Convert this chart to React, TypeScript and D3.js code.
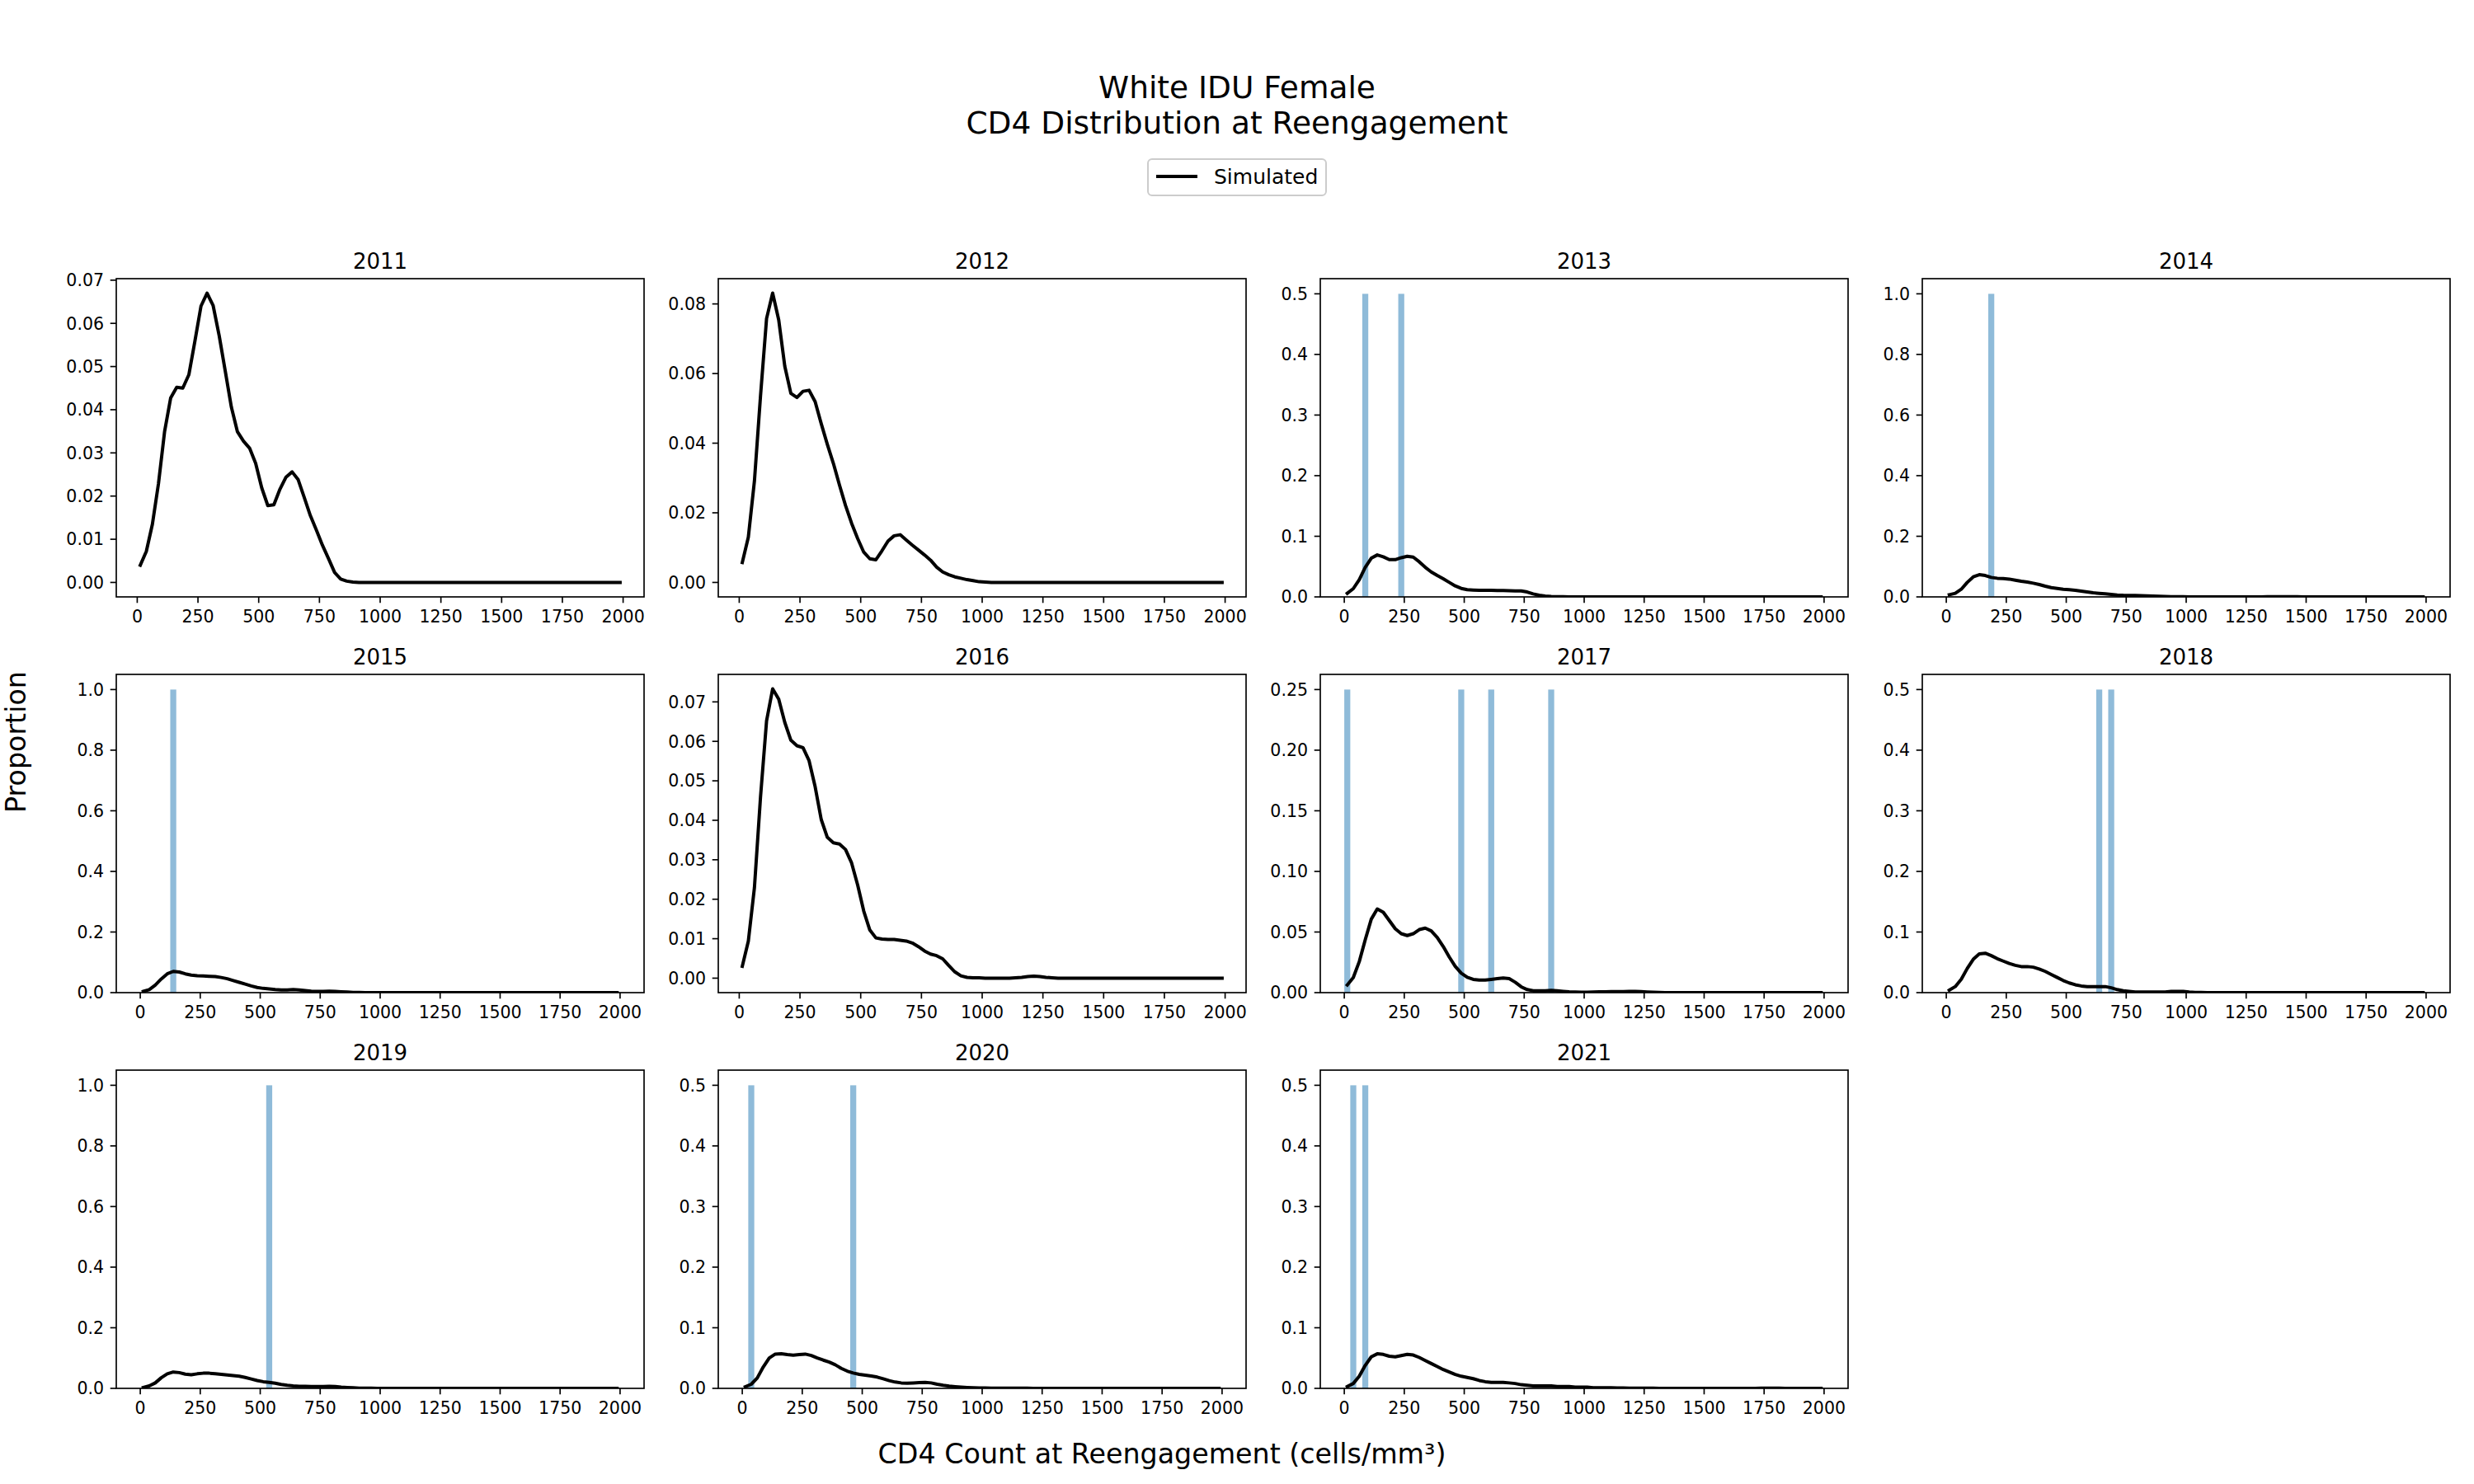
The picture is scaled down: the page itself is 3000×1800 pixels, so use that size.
import React from "react";
import * as d3 from "d3";

// ---- data -----------------------------------------------------------------
const YEARS = [2011, 2012, 2013, 2014, 2015, 2016, 2017, 2018, 2019, 2020, 2021];

const BIN_WIDTH = 25; // cells/mm³ per histogram bin
const HIST_RANGE = [0, 2000]; // full span of the observed histogram bins
const X_TICKS = [0, 250, 500, 750, 1000, 1250, 1500, 1750, 2000];

// simulated proportion per 25-cell bin (bins 0-25 ... 1975-2000)
const SIM_2011 = [
  0.0040, 0.0072, 0.0135, 0.0229, 0.0349, 0.0427, 0.0452, 0.0450, 0.0481, 0.0559,
  0.0640, 0.0670, 0.0641, 0.0571, 0.0489, 0.0406, 0.0349, 0.0327, 0.0311, 0.0276,
  0.0219, 0.0178, 0.0180, 0.0216, 0.0244, 0.0256, 0.0238, 0.0197, 0.0155, 0.0121,
  0.0086, 0.0055, 0.0023, 0.0008, 0.0003, 0.0001, 0, 0, 0, 0,
  0, 0, 0, 0, 0, 0, 0, 0, 0, 0,
  0, 0, 0, 0, 0, 0, 0, 0, 0, 0,
  0, 0, 0, 0, 0, 0, 0, 0, 0, 0,
  0, 0, 0, 0, 0, 0, 0, 0, 0, 0,
];
const SIM_2012 = [
  0.0057, 0.0130, 0.0291, 0.0535, 0.0758, 0.0831, 0.0754, 0.0621, 0.0543, 0.0531,
  0.0549, 0.0552, 0.0519, 0.0456, 0.0397, 0.0342, 0.0280, 0.0221, 0.0170, 0.0126,
  0.0087, 0.0068, 0.0065, 0.0091, 0.0119, 0.0134, 0.0137, 0.0122, 0.0107, 0.0093,
  0.0079, 0.0064, 0.0044, 0.0030, 0.0022, 0.0016, 0.0012, 0.0008, 0.0005, 0.0002,
  0.0001, 0, 0, 0, 0, 0, 0, 0, 0, 0,
  0, 0, 0, 0, 0, 0, 0, 0, 0, 0,
  0, 0, 0, 0, 0, 0, 0, 0, 0, 0,
  0, 0, 0, 0, 0, 0, 0, 0, 0, 0,
];
const SIM_2013 = [
  0.0059, 0.0136, 0.0285, 0.0489, 0.0638, 0.0692, 0.0661, 0.0615, 0.0615, 0.0647,
  0.0670, 0.0656, 0.0579, 0.0489, 0.0412, 0.0353, 0.0299, 0.0240, 0.0181, 0.0140,
  0.0118, 0.0113, 0.0109, 0.0109, 0.0109, 0.0106, 0.0104, 0.0102, 0.0100, 0.0099,
  0.0081, 0.0050, 0.0027, 0.0014, 0.0007, 0.0003, 0.0002, 0.0001, 0.0001, 0.0001,
  0.0001, 0.0001, 0.0001, 0.0001, 0.0001, 0.0001, 0.0001, 0.0001, 0.0001, 0.0001,
  0, 0, 0, 0, 0, 0, 0, 0, 0, 0,
  0, 0, 0, 0, 0, 0, 0, 0, 0, 0,
  0, 0, 0, 0, 0, 0, 0, 0, 0, 0,
];
const SIM_2014 = [
  0.0072, 0.0118, 0.0253, 0.0480, 0.0661, 0.0733, 0.0706, 0.0643, 0.0615, 0.0606,
  0.0588, 0.0552, 0.0516, 0.0489, 0.0452, 0.0407, 0.0353, 0.0308, 0.0281, 0.0253,
  0.0235, 0.0217, 0.0190, 0.0163, 0.0136, 0.0118, 0.0100, 0.0081, 0.0063, 0.0054,
  0.0050, 0.0046, 0.0040, 0.0032, 0.0025, 0.0018, 0.0012, 0.0008, 0.0005, 0.0004,
  0.0003, 0.0003, 0.0003, 0.0003, 0.0003, 0.0003, 0.0003, 0.0003, 0.0003, 0.0003,
  0.0003, 0.0003, 0.0003, 0.0004, 0.0005, 0.0006, 0.0006, 0.0005, 0.0004, 0.0003,
  0.0002, 0.0002, 0.0002, 0.0001, 0.0001, 0.0001, 0.0001, 0.0001, 0.0001, 0.0001,
  0.0001, 0.0001, 0.0001, 0.0001, 0.0001, 0.0001, 0.0001, 0.0001, 0.0001, 0.0001,
];
const SIM_2015 = [
  0.0040, 0.0100, 0.0250, 0.0450, 0.0620, 0.0700, 0.0680, 0.0620, 0.0580, 0.0560,
  0.0550, 0.0540, 0.0530, 0.0500, 0.0460, 0.0400, 0.0340, 0.0280, 0.0220, 0.0170,
  0.0140, 0.0120, 0.0100, 0.0090, 0.0090, 0.0100, 0.0090, 0.0070, 0.0050, 0.0040,
  0.0040, 0.0050, 0.0040, 0.0030, 0.0020, 0.0010, 0.0005, 0.0003, 0.0002, 0.0001,
  0.0001, 0.0001, 0.0001, 0.0001, 0.0001, 0, 0, 0, 0, 0,
  0, 0, 0, 0, 0, 0, 0, 0, 0, 0,
  0, 0, 0, 0, 0, 0, 0, 0, 0, 0,
  0, 0, 0, 0, 0, 0, 0, 0, 0, 0,
];
const SIM_2016 = [
  0.0030, 0.0094, 0.0229, 0.0458, 0.0652, 0.0733, 0.0707, 0.0648, 0.0603, 0.0589,
  0.0584, 0.0551, 0.0485, 0.0402, 0.0357, 0.0343, 0.0340, 0.0326, 0.0292, 0.0236,
  0.0170, 0.0122, 0.0102, 0.0099, 0.0098, 0.0098, 0.0096, 0.0094, 0.0089, 0.0080,
  0.0069, 0.0061, 0.0057, 0.0049, 0.0032, 0.0016, 0.0006, 0.0002, 0.0001, 0.0001,
  0, 0, 0, 0, 0, 0.0001, 0.0002, 0.0004, 0.0005, 0.0004,
  0.0002, 0.0001, 0, 0, 0, 0, 0, 0, 0, 0,
  0, 0, 0, 0, 0, 0, 0, 0, 0, 0,
  0, 0, 0, 0, 0, 0, 0, 0, 0, 0,
];
const SIM_2017 = [
  0.0063, 0.0124, 0.0256, 0.0437, 0.0606, 0.0690, 0.0663, 0.0595, 0.0527, 0.0486,
  0.0471, 0.0486, 0.0520, 0.0532, 0.0509, 0.0455, 0.0380, 0.0294, 0.0217, 0.0161,
  0.0127, 0.0109, 0.0104, 0.0104, 0.0109, 0.0115, 0.0120, 0.0115, 0.0086, 0.0048,
  0.0025, 0.0016, 0.0016, 0.0016, 0.0018, 0.0016, 0.0011, 0.0007, 0.0005, 0.0004,
  0.0004, 0.0005, 0.0006, 0.0007, 0.0008, 0.0009, 0.0009, 0.0010, 0.0010, 0.0008,
  0.0005, 0.0003, 0.0001, 0, 0, 0, 0, 0, 0, 0,
  0, 0, 0, 0, 0, 0, 0, 0, 0, 0,
  0, 0, 0, 0, 0, 0, 0, 0, 0, 0,
];
const SIM_2018 = [
  0.0040, 0.0100, 0.0220, 0.0400, 0.0550, 0.0640, 0.0650, 0.0610, 0.0560, 0.0520,
  0.0480, 0.0450, 0.0430, 0.0430, 0.0420, 0.0390, 0.0350, 0.0300, 0.0250, 0.0200,
  0.0160, 0.0130, 0.0110, 0.0100, 0.0100, 0.0100, 0.0100, 0.0080, 0.0050, 0.0030,
  0.0020, 0.0010, 0.0010, 0.0010, 0.0010, 0.0010, 0.0010, 0.0020, 0.0020, 0.0020,
  0.0010, 0.0005, 0.0002, 0.0001, 0, 0, 0, 0, 0, 0,
  0, 0, 0, 0, 0, 0, 0, 0, 0, 0,
  0, 0, 0, 0, 0, 0, 0, 0, 0, 0,
  0, 0, 0, 0, 0, 0, 0, 0, 0, 0,
];
const SIM_2019 = [
  0.0030, 0.0080, 0.0180, 0.0350, 0.0480, 0.0540, 0.0520, 0.0470, 0.0450, 0.0480,
  0.0500, 0.0500, 0.0480, 0.0460, 0.0440, 0.0420, 0.0400, 0.0360, 0.0310, 0.0260,
  0.0220, 0.0200, 0.0170, 0.0130, 0.0100, 0.0080, 0.0070, 0.0070, 0.0060, 0.0060,
  0.0060, 0.0070, 0.0060, 0.0040, 0.0030, 0.0020, 0.0010, 0.0010, 0.0005, 0.0003,
  0.0002, 0.0001, 0.0001, 0, 0, 0, 0, 0, 0, 0,
  0, 0, 0, 0, 0, 0, 0, 0, 0, 0,
  0, 0, 0, 0, 0, 0, 0, 0, 0, 0,
  0, 0, 0, 0, 0, 0, 0, 0, 0, 0,
];
const SIM_2020 = [
  0.0027, 0.0068, 0.0172, 0.0353, 0.0502, 0.0566, 0.0570, 0.0557, 0.0548, 0.0557,
  0.0566, 0.0543, 0.0502, 0.0466, 0.0434, 0.0389, 0.0330, 0.0285, 0.0253, 0.0231,
  0.0217, 0.0204, 0.0186, 0.0158, 0.0127, 0.0104, 0.0090, 0.0086, 0.0090, 0.0095,
  0.0100, 0.0090, 0.0068, 0.0050, 0.0036, 0.0027, 0.0020, 0.0015, 0.0011, 0.0008,
  0.0006, 0.0005, 0.0004, 0.0004, 0.0003, 0.0003, 0.0002, 0.0002, 0.0001, 0.0001,
  0, 0, 0, 0, 0, 0, 0, 0, 0, 0,
  0, 0, 0, 0, 0, 0, 0, 0, 0, 0,
  0, 0, 0, 0, 0, 0, 0, 0, 0, 0,
];
const SIM_2021 = [
  0.0030, 0.0080, 0.0200, 0.0380, 0.0520, 0.0570, 0.0560, 0.0530, 0.0520, 0.0540,
  0.0560, 0.0550, 0.0510, 0.0460, 0.0410, 0.0360, 0.0310, 0.0270, 0.0230, 0.0200,
  0.0180, 0.0160, 0.0130, 0.0110, 0.0100, 0.0100, 0.0100, 0.0090, 0.0080, 0.0060,
  0.0050, 0.0040, 0.0040, 0.0040, 0.0040, 0.0030, 0.0030, 0.0030, 0.0020, 0.0020,
  0.0020, 0.0010, 0.0010, 0.0010, 0.0010, 0.0008, 0.0006, 0.0005, 0.0004, 0.0003,
  0.0002, 0.0002, 0.0001, 0.0001, 0.0001, 0.0001, 0.0001, 0.0001, 0.0001, 0.0001,
  0.0001, 0.0001, 0.0001, 0.0001, 0.0001, 0.0001, 0.0001, 0.0001, 0.0001, 0.0002,
  0.0003, 0.0003, 0.0002, 0.0001, 0.0001, 0, 0, 0, 0, 0,
];

// observed reengagements: left edge of the bin and its proportion
const OBS_BINS_2013 = [75, 225];
const OBS_PROP_2013 = [0.5, 0.5];
const OBS_BINS_2014 = [175];
const OBS_PROP_2014 = [1.0];
const OBS_BINS_2015 = [125];
const OBS_PROP_2015 = [1.0];
const OBS_BINS_2017 = [0, 475, 600, 850];
const OBS_PROP_2017 = [0.25, 0.25, 0.25, 0.25];
const OBS_BINS_2018 = [625, 675];
const OBS_PROP_2018 = [0.5, 0.5];
const OBS_BINS_2019 = [525];
const OBS_PROP_2019 = [1.0];
const OBS_BINS_2020 = [25, 450];
const OBS_PROP_2020 = [0.5, 0.5];
const OBS_BINS_2021 = [25, 75];
const OBS_PROP_2021 = [0.5, 0.5];

// y tick values per panel
const Y_TICKS_007 = [0, 0.01, 0.02, 0.03, 0.04, 0.05, 0.06, 0.07];
const Y_TICKS_008 = [0, 0.02, 0.04, 0.06, 0.08];
const Y_TICKS_05 = [0, 0.1, 0.2, 0.3, 0.4, 0.5];
const Y_TICKS_10 = [0, 0.2, 0.4, 0.6, 0.8, 1.0];
const Y_TICKS_025 = [0, 0.05, 0.1, 0.15, 0.2, 0.25];

type Panel = {
  year: number;
  sim: number[];
  obsBins: number[];
  obsProp: number[];
  yTicks: number[];
  yDecimals: number;
};

const PANELS: Panel[] = [
  { year: YEARS[0], sim: SIM_2011, obsBins: [], obsProp: [], yTicks: Y_TICKS_007, yDecimals: 2 },
  { year: YEARS[1], sim: SIM_2012, obsBins: [], obsProp: [], yTicks: Y_TICKS_008, yDecimals: 2 },
  { year: YEARS[2], sim: SIM_2013, obsBins: OBS_BINS_2013, obsProp: OBS_PROP_2013, yTicks: Y_TICKS_05, yDecimals: 1 },
  { year: YEARS[3], sim: SIM_2014, obsBins: OBS_BINS_2014, obsProp: OBS_PROP_2014, yTicks: Y_TICKS_10, yDecimals: 1 },
  { year: YEARS[4], sim: SIM_2015, obsBins: OBS_BINS_2015, obsProp: OBS_PROP_2015, yTicks: Y_TICKS_10, yDecimals: 1 },
  { year: YEARS[5], sim: SIM_2016, obsBins: [], obsProp: [], yTicks: Y_TICKS_007, yDecimals: 2 },
  { year: YEARS[6], sim: SIM_2017, obsBins: OBS_BINS_2017, obsProp: OBS_PROP_2017, yTicks: Y_TICKS_025, yDecimals: 2 },
  { year: YEARS[7], sim: SIM_2018, obsBins: OBS_BINS_2018, obsProp: OBS_PROP_2018, yTicks: Y_TICKS_05, yDecimals: 1 },
  { year: YEARS[8], sim: SIM_2019, obsBins: OBS_BINS_2019, obsProp: OBS_PROP_2019, yTicks: Y_TICKS_10, yDecimals: 1 },
  { year: YEARS[9], sim: SIM_2020, obsBins: OBS_BINS_2020, obsProp: OBS_PROP_2020, yTicks: Y_TICKS_05, yDecimals: 1 },
  { year: YEARS[10], sim: SIM_2021, obsBins: OBS_BINS_2021, obsProp: OBS_PROP_2021, yTicks: Y_TICKS_05, yDecimals: 1 },
];

// ---- layout ---------------------------------------------------------------
const W = 3000;
const H = 1800;
const COL_LEFT = [141, 871, 1601, 2331];
const ROW_TOP = [338, 818, 1298];
const AX_W = 640;
const AX_H = 386;
const FONT = "DejaVu Sans, Liberation Sans, sans-serif";
const TICK_FS = 20.5;
const TITLE_FS = 26;
const BAR_COLOR = "#1f77b4";

function SubPlot({ p, left, top }: { p: Panel; left: number; top: number }) {
  const centers = p.sim.map((_, i) => (i + 0.5) * BIN_WIDTH);
  const hasBars = p.obsBins.length > 0;

  // x extent: the line's bin centres, plus the whole histogram range when bars are drawn
  let xMin = centers[0];
  let xMax = centers[centers.length - 1];
  if (hasBars) {
    xMin = Math.min(xMin, HIST_RANGE[0]);
    xMax = Math.max(xMax, HIST_RANGE[1]);
  }
  const xPad = (xMax - xMin) * 0.05;
  const x = d3.scaleLinear().domain([xMin - xPad, xMax + xPad]).range([0, AX_W]);

  const simMax = d3.max(p.sim) ?? 0;
  const simMin = d3.min(p.sim) ?? 0;
  const barMax = hasBars ? d3.max(p.obsProp) ?? 0 : 0;
  const dataMax = Math.max(simMax, barMax);
  let y0: number, y1: number;
  if (hasBars) {
    // bars rest on zero, so the lower limit sticks to 0
    y0 = 0;
    y1 = dataMax * 1.05;
  } else {
    const span = dataMax - simMin;
    y0 = simMin - span * 0.05;
    y1 = dataMax + span * 0.05;
  }
  const y = d3.scaleLinear().domain([y0, y1]).range([AX_H, 0]);

  const line = d3
    .line<number>()
    .x((_, i) => x(centers[i]))
    .y((d) => y(d));

  const fmt = d3.format(`.${p.yDecimals}f`);

  return (
    <g transform={`translate(${left},${top})`}>
      <defs>
        <clipPath id={`clip-${p.year}`}>
          <rect x={0} y={0} width={AX_W} height={AX_H} />
        </clipPath>
      </defs>
      <g clipPath={`url(#clip-${p.year})`}>
        {p.obsBins.map((b, i) => (
          <rect
            key={i}
            x={x(b)}
            y={y(p.obsProp[i])}
            width={x(b + BIN_WIDTH) - x(b)}
            height={y(0) - y(p.obsProp[i])}
            fill={BAR_COLOR}
            fillOpacity={0.5}
          />
        ))}
        <path
          d={line(p.sim) ?? ""}
          fill="none"
          stroke="#000"
          strokeWidth={4}
          strokeLinejoin="round"
          strokeLinecap="square"
        />
      </g>
      <rect x={0} y={0} width={AX_W} height={AX_H} fill="none" stroke="#000" strokeWidth={1.67} />
      {/* x axis */}
      {X_TICKS.map((t) => (
        <g key={t} transform={`translate(${x(t)},${AX_H})`}>
          <line y1={0} y2={7.3} stroke="#000" strokeWidth={1.67} />
          <text y={31} textAnchor="middle" fontSize={TICK_FS} fontFamily={FONT} fill="#000">
            {t}
          </text>
        </g>
      ))}
      {/* y axis */}
      {p.yTicks.map((t) => (
        <g key={t} transform={`translate(0,${y(t)})`}>
          <line x1={0} x2={-7.3} stroke="#000" strokeWidth={1.67} />
          <text
            x={-15}
            dy="0.36em"
            textAnchor="end"
            fontSize={TICK_FS}
            fontFamily={FONT}
            fill="#000"
          >
            {fmt(t)}
          </text>
        </g>
      ))}
      <text
        x={AX_W / 2}
        y={-12.5}
        textAnchor="middle"
        fontSize={TITLE_FS}
        fontFamily={FONT}
        fill="#000"
      >
        {p.year}
      </text>
    </g>
  );
}

export default function App() {
  return (
    <svg
      width={W}
      height={H}
      viewBox={`0 0 ${W} ${H}`}
      style={{ position: "absolute", left: 0, top: 0, background: "#fff" }}
    >
      <rect x={0} y={0} width={W} height={H} fill="#fff" />
      <text x={1500} y={119} textAnchor="middle" fontSize={37.5} fontFamily={FONT} fill="#000">
        White IDU Female
      </text>
      <text x={1500} y={162} textAnchor="middle" fontSize={37.5} fontFamily={FONT} fill="#000">
        CD4 Distribution at Reengagement
      </text>

      {/* legend */}
      <g>
        <rect
          x={1392}
          y={193}
          width={216}
          height={44}
          rx={5}
          fill="#fff"
          fillOpacity={0.8}
          stroke="#cccccc"
          strokeWidth={2}
        />
        <line x1={1402} x2={1452} y1={214} y2={214} stroke="#000" strokeWidth={4} />
        <text x={1472} y={223} fontSize={25} fontFamily={FONT} fill="#000">
          Simulated
        </text>
      </g>

      {PANELS.map((p, i) => (
        <SubPlot key={p.year} p={p} left={COL_LEFT[i % 4]} top={ROW_TOP[Math.floor(i / 4)]} />
      ))}

      <text x={1409} y={1775} textAnchor="middle" fontSize={33.3} fontFamily={FONT} fill="#000">
        CD4 Count at Reengagement (cells/mm³)
      </text>
      <text
        transform="translate(31,900) rotate(-90)"
        textAnchor="middle"
        fontSize={33.3}
        fontFamily={FONT}
        fill="#000"
      >
        Proportion
      </text>
    </svg>
  );
}
